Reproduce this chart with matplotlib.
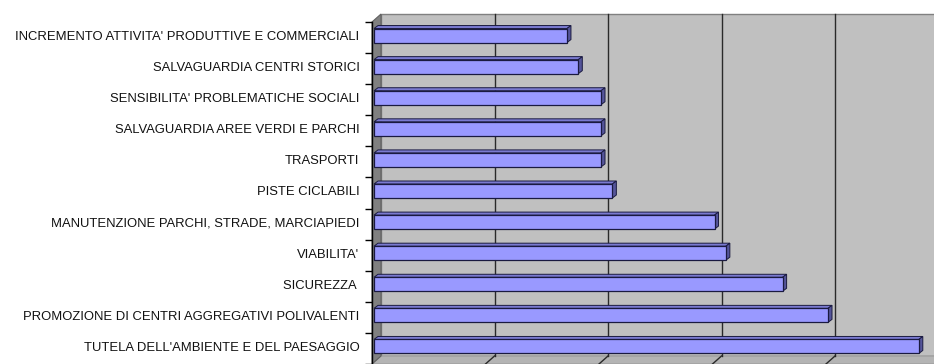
import matplotlib
matplotlib.use("Agg")
import matplotlib.pyplot as plt
import matplotlib.transforms as mtransforms
from matplotlib.patches import Polygon, Rectangle

plt.rcParams['font.family'] = ['Liberation Sans', 'DejaVu Sans']

# categories top to bottom, with their scores
labels = [
    "INCREMENTO ATTIVITA' PRODUTTIVE E COMMERCIALI",
    "SALVAGUARDIA CENTRI STORICI",
    "SENSIBILITA' PROBLEMATICHE SOCIALI",
    "SALVAGUARDIA AREE VERDI E PARCHI",
    "TRASPORTI",
    "PISTE CICLABILI",
    "MANUTENZIONE PARCHI, STRADE, MARCIAPIEDI",
    "VIABILITA'",
    "SICUREZZA ",
    "PROMOZIONE DI CENTRI AGGREGATIVI POLIVALENTI",
    "TUTELA DELL'AMBIENTE E DEL PAESAGGIO",
]
values = [17, 18, 20, 20, 20, 21, 30, 31, 36, 40, 48]
grid_steps = [10, 20, 30, 40]

W, H = 934, 364
fig = plt.figure(figsize=(W / 100, H / 100), dpi=100)
ax = fig.add_axes([372 / W, 1 - 364 / H, (934 - 372) / W, (364 - 22) / H])
n = len(labels)
ax.set_xlim(0, (934 - 372) / 11.35)
ax.set_ylim(n - 0.5, -0.5)
ax.set_facecolor('none')

# pixel -> data unit conversion for the depth of the 3d look
p0 = ax.transData.transform((0, 0))
px_x = ax.transData.transform((1, 0))[0] - p0[0]
px_y = p0[1] - ax.transData.transform((0, 1))[1]


def depth(dx, dy):
    return dx / px_x, -dy / px_y


xmax = ax.get_xlim()[1]
wx, wy = depth(9, 8)
ylo, yhi = -0.5, n - 0.5

# back wall
ax.add_patch(Rectangle((wx, ylo + wy), xmax, n, facecolor='#c0c0c0',
                       edgecolor='#808080', lw=1, zorder=0, clip_on=False))
# floor
ax.add_patch(Polygon([(0, yhi), (xmax, yhi), (xmax + wx, yhi + wy), (wx, yhi + wy)],
                     closed=True, facecolor='#b4b4b4', edgecolor='#9a9a9a', lw=0.8,
                     zorder=0.5, clip_on=False))
# left wall
ax.add_patch(Polygon([(0, ylo), (wx, ylo + wy), (wx, yhi + wy), (0, yhi)],
                     closed=True, facecolor='#808080', edgecolor='#606060', lw=0.8,
                     zorder=1, clip_on=False))
# gridlines on the back wall and across the floor
for g in grid_steps:
    ax.plot([g + wx, g + wx], [ylo + wy, yhi + wy], color='#2a2a2a', lw=1, zorder=0.8,
            clip_on=False)
    ax.plot([g, g + wx], [yhi, yhi + wy], color='#2a2a2a', lw=1, zorder=0.8,
            clip_on=False)

# bars with front, top and side faces
tr_bar = mtransforms.offset_copy(ax.transData, fig=fig, x=2, y=2, units='dots')
bh = 14 / px_y
bx, by = depth(4, 3)
ypos = list(range(n))
ax.barh(ypos, values, height=bh, color='#9999ff', edgecolor='#1a1a40', lw=0.9,
        transform=tr_bar, zorder=3)
for y, v in zip(ypos, values):
    top = y - bh / 2
    bot = y + bh / 2
    ax.add_patch(Polygon([(0, top), (v, top), (v + bx, top + by), (bx, top + by)],
                         closed=True, facecolor='#7a7ad0', edgecolor='#1a1a40', lw=0.7,
                         transform=tr_bar, zorder=2.9, clip_on=False))
    ax.add_patch(Polygon([(v, top), (v, bot), (v + bx, bot + by), (v + bx, top + by)],
                         closed=True, facecolor='#55559a', edgecolor='#1a1a40', lw=0.7,
                         transform=tr_bar, zorder=2.9, clip_on=False))

# axes, ticks, labels
for s in ['top', 'right', 'bottom']:
    ax.spines[s].set_visible(False)
ax.spines['left'].set_color('black')
ax.spines['left'].set_linewidth(1)
ax.set_xticks([])
ax.set_yticks(ypos)
ax.set_yticklabels(labels, fontsize=9.4, color='#111111')
ax.tick_params(axis='y', which='major', length=0, pad=9)
ax.set_yticks([i - 0.5 for i in range(n + 1)], minor=True)
ax.tick_params(axis='y', which='minor', length=5, width=1, color='black')

# labels sit slightly above the band centre, level with the bars
lift = mtransforms.ScaledTranslation(0, 2 / 100, fig.dpi_scale_trans)
for lbl in ax.get_yticklabels():
    lbl.set_transform(lbl.get_transform() + lift)

fig.savefig('out.png', dpi=100)
